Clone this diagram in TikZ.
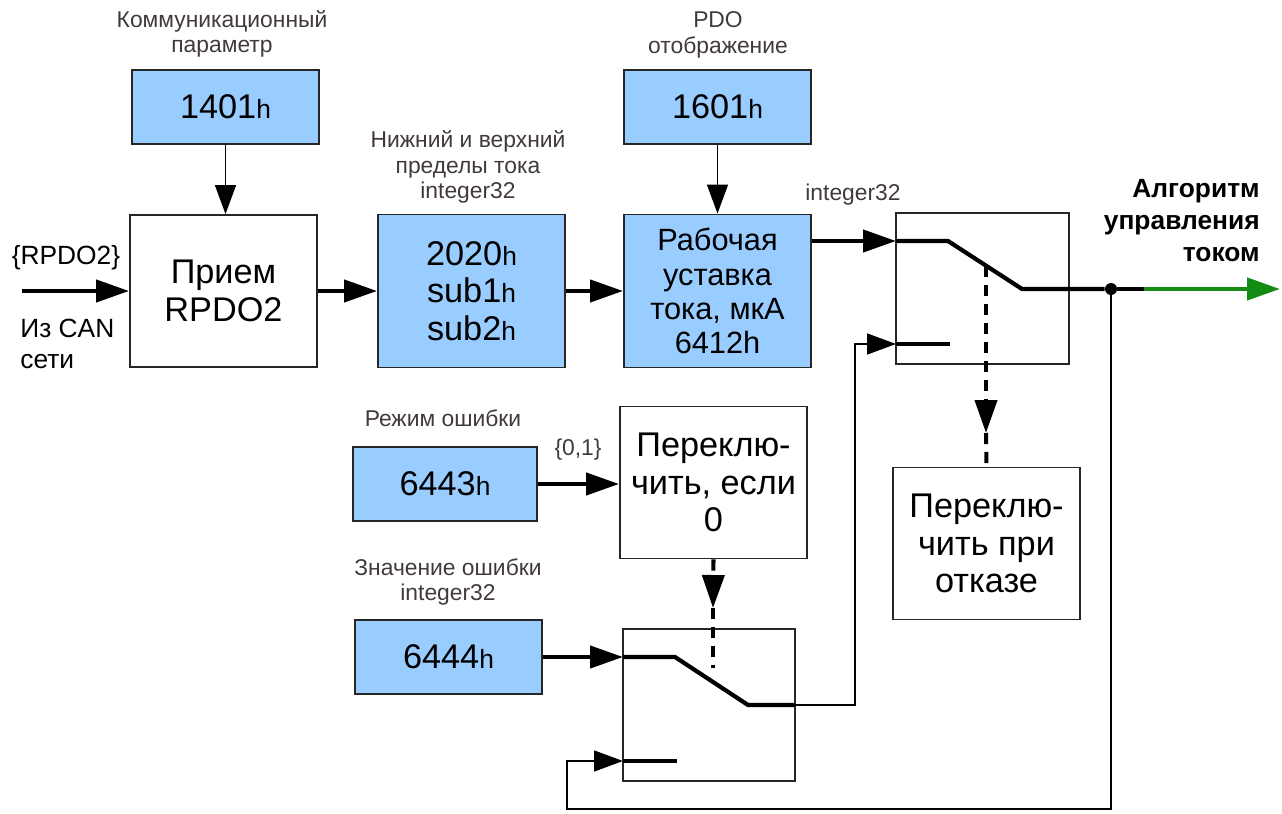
\documentclass[tikz,border=0pt]{standalone}
\usepackage{fontspec}
\setmainfont{Liberation Sans}
\usetikzlibrary{arrows.meta}

\definecolor{parblue}{RGB}{153,204,255}
\definecolor{labgray}{RGB}{66,58,58}
\definecolor{outgreen}{RGB}{20,140,20}

% small index suffix of object numbers
\newcommand{\hidx}{{\fontsize{15}{15}\selectfont h}}

\begin{document}
\begin{tikzpicture}[x=0.02cm,y=-0.02cm,
	bigtip/.tip={Triangle[length=0.66cm,width=0.44cm]},
	smalltip/.tip={Triangle[length=0.58cm,width=0.42cm]},
	block/.style={draw=black!85,line width=1.1pt,minimum width=3.74cm,minimum height=3.04cm,
		align=center,font=\fontsize{19.5}{21.5}\selectfont,inner sep=0pt},
	param/.style={block,fill=parblue,minimum height=1.48cm},
	swbox/.style={draw=black!85,line width=0.9pt,minimum width=3.46cm,minimum height=3.02cm},
	lab/.style={align=center,text=labgray,font=\fontsize{13}{14.6}\selectfont,inner sep=0pt},
	bus/.style={line width=2.4pt,-bigtip},
	wire/.style={line width=0.9pt,-smalltip},
	contact/.style={line width=2.4pt,line join=round},
	ctrl/.style={line width=2.3pt,dash pattern=on 6.3pt off 4.5pt}]
	\useasboundingbox (0,0) rectangle (1282,814);

	% parameter objects and blocks
	\node[param] (p1401) at (225.5,107) {1401\hidx};
	\node[block] (priem) at (223.5,291) {Прием\\RPDO2};
	\node[param,minimum height=3.06cm] (p2020) at (471.5,291) {2020\hidx\\sub1\hidx\\sub2\hidx};
	\node[param] (p1601) at (717.5,107) {1601\hidx};
	\node[param,minimum height=3.06cm,font=\fontsize{17.5}{19.4}\selectfont] (setp) at (717.5,291)
		{Рабочая\\уставка\\тока, мкА\\6412h};
	\node[param,minimum width=3.68cm] (p6443) at (445,484) {6443\hidx};
	\node[param] (p6444) at (448.5,657) {6444\hidx};
	\node[block] (ifzero) at (713.5,482.5) {Переклю-\\чить, если\\0};
	\node[block] (onfail) at (986.5,543.5) {Переклю-\\чить при\\отказе};
	\node[swbox] (sw1) at (982.5,288.5) {};
	\node[swbox,minimum width=3.44cm,minimum height=3.04cm] (sw2) at (709,705) {};

	% captions
	\node[lab] (l1401) at (222,34) {Коммуникационный\\параметр};
	\node[lab] (l1601) at (718,35) {PDO\\отображение};
	\node[lab] (l2020) at (468,167) {Нижний и верхний\\пределы тока\\integer32};
	\node[lab] (lint) at (853,195) {integer32};
	\node[lab] (l6443) at (443,418) {Режим ошибки};
	\node[lab] (l01) at (578,450) {\{0,1\}};
	\node[lab] (l6444) at (448,582) {Значение ошибки\\integer32};
	\node[font=\fontsize{15}{18}\selectfont,inner sep=0pt] (lrpdo) at (66,258) {\{RPDO2\}};
	\node[font=\fontsize{15}{18}\selectfont,align=left,inner sep=0pt,anchor=west] (lcan) at (20,344)
		{Из CAN\\сети};
	\node[font=\fontsize{15}{18.2}\selectfont\bfseries,align=right,inner sep=0pt,anchor=east] (lout)
		at (1260,221) {Алгоритм\\управления\\током};

	% switch points
	\coordinate (canin) at (22,291);
	\coordinate (s1a) at (896,241);
	\coordinate (s1b) at (948,241);
	\coordinate (s1c) at (1022,289);
	\coordinate (s1l) at (896,344);
	\coordinate (s1le) at (950,344);
	\coordinate (s1d) at (986,266);
	\coordinate (s1tip) at (986,433);
	\coordinate (s2a) at (623,657);
	\coordinate (s2b) at (675,657);
	\coordinate (s2c) at (748,705);
	\coordinate (s2o) at (795,705);
	\coordinate (s2l) at (623,761);
	\coordinate (s2le) at (677,761);
	\coordinate (s2d) at (713,668);
	\coordinate (s2tip) at (713,608);
	\coordinate (fb1) at (855,705);
	\coordinate (fb2) at (1111,809);
	\coordinate (fb3) at (567,761);
	\coordinate (gout) at (1144,289);
	\coordinate (outp) at (1280,289);
	\node[circle,fill,inner sep=0pt,minimum size=0.24cm] (junc) at (1111,289) {};

	% signal flow
	\draw[bus] (canin) -- (priem);
	\draw[wire] (p1401.south) -- (p1401.south |- priem.north);
	\draw[bus] (priem) -- (p2020);
	\draw[bus] (p2020) -- (setp);
	\draw[wire] (p1601.south) -- (p1601.south |- setp.north);
	\draw[bus] (setp.east |- s1a) -- (s1a);
	\draw[bus] (p6443.east) -- (p6443.east -| ifzero.west);
	\draw[bus] (p6444) -- (s2a);

	% switches
	\draw[contact] (s1a) -- (s1b) -- (s1c) -- (junc);
	\draw[contact] (s1l) -- (s1le);
	\draw[contact] (s2a) -- (s2b) -- (s2c) -- (s2o);
	\draw[contact] (s2l) -- (s2le);
	\draw[contact] (junc) -- (gout);
	\draw[bus,outgreen] (gout) -- (outp);

	% control lines
	\draw[ctrl,-bigtip] (ifzero.south) -- (s2tip);
	\draw[ctrl] (s2tip) -- (s2d);
	\draw[ctrl,-bigtip] (s1d) -- (s1tip);
	\draw[ctrl] (s1tip) -- (onfail.north);

	% feedback
	\draw[wire] (s2o) -- (fb1) |- (s1l);
	\draw[wire] (junc) -- (fb2) -| (fb3) -- (s2l);
\end{tikzpicture}
\end{document}
